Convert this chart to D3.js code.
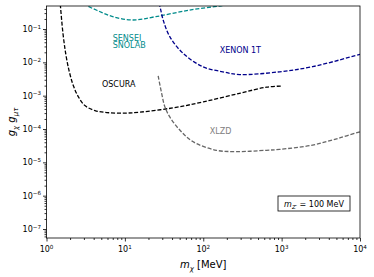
<!DOCTYPE html>
<html>
<head>
<meta charset="utf-8">
<script src="https://cdn.jsdelivr.net/npm/d3@7"></script>
<style>
  body { margin: 0; background: #fff; }
  svg { font-family: "DejaVu Sans", sans-serif; }
</style>
</head>
<body>
<svg id="chart" width="374" height="277"></svg>
<script>
'use strict';

// curves (m_chi in MeV, coupling product)
var oscuraX = [1.5, 1.62, 1.77, 1.96, 2.21, 2.56, 3.09, 4.15, 5.9, 10, 15.5, 41, 100, 300, 645, 1000],
    oscuraY = [0.55, 0.076, 0.0166, 5.1e-3, 1.94e-3, 9.1e-4, 5.05e-4, 3.57e-4, 3.11e-4, 3.0e-4, 3.2e-4, 4.3e-4, 6.5e-4, 1.2e-3, 1.8e-3, 1.95e-3];
var senseiX = [3.0, 3.35, 4.5, 7.0, 12.5, 24.8, 67, 162, 200],
    senseiY = [0.6, 0.49, 0.355, 0.235, 0.186, 0.235, 0.37, 0.49, 0.53];
var xenonX = [27, 27.9, 30.8, 37.4, 54.8, 98.6, 177, 292, 944, 2480, 10000],
    xenonY = [0.6, 0.49, 0.186, 0.059, 0.019, 7.4e-3, 5.2e-3, 4.3e-3, 5.2e-3, 7.4e-3, 0.0174];
var xlzdX = [26.6, 29.4, 32.3, 37.4, 50.2, 73.5, 147, 265, 638, 944, 2480, 5500, 10000],
    xlzdY = [3.9e-3, 1.2e-3, 4.7e-4, 2.3e-4, 9.3e-5, 4.2e-5, 2.3e-5, 2.1e-5, 2.3e-5, 2.45e-5, 3.3e-5, 5.4e-5, 8.3e-5];

var xTicks = [1, 10, 100, 1000, 10000],
    xTickExp = ['0', '1', '2', '3', '4'],
    yTicks = [1e-7, 1e-6, 1e-5, 1e-4, 1e-3, 1e-2, 1e-1],
    yTickExp = ['\u22127', '\u22126', '\u22125', '\u22124', '\u22123', '\u22122', '\u22121'];

var series = [
  { name: 'OSCURA', xs: oscuraX, ys: oscuraY, color: '#000000', label: ['OSCURA'], at: [5.1, 1.8e-3], text: '#000000' },
  { name: 'SENSEI', xs: senseiX, ys: senseiY, color: '#008b8b', label: ['SENSEI', 'SNOLAB'], at: [7.0, 0.044], text: '#008b8b' },
  { name: 'XENON', xs: xenonX, ys: xenonY, color: '#00008b', label: ['XENON 1T'], at: [162, 0.019], text: '#00008b' },
  { name: 'XLZD', xs: xlzdX, ys: xlzdY, color: '#666666', label: ['XLZD'], at: [121, 7.2e-5], text: '#808080' }
];

var margin = { top: 6, right: 14, bottom: 39, left: 46.5 },
    W = 374, H = 277,
    x = d3.scaleLog().domain([1, 1e4]).range([margin.left, W - margin.right]),
    y = d3.scaleLog().domain([Math.pow(10, -7.27), Math.pow(10, -0.31)]).range([H - margin.bottom, margin.top]),
    svg = d3.select('#chart');

svg.append('clipPath').attr('id', 'plotclip').append('rect')
  .attr('x', x.range()[0]).attr('y', y.range()[1])
  .attr('width', x.range()[1] - x.range()[0]).attr('height', y.range()[0] - y.range()[1]);

function minors(lo, hi) {
  var out = [], e, k;
  for (e = lo; e < hi; e++) {
    for (k = 2; k < 10; k++) out.push(k * Math.pow(10, e));
  }
  return out;
}

// minor ticks
svg.append('g').attr('transform', 'translate(0,' + y.range()[0] + ')')
  .call(d3.axisBottom(x).tickValues(minors(0, 4)).tickSize(2).tickFormat(''))
  .call(function (g) { g.select('.domain').remove(); });
svg.append('g').attr('transform', 'translate(' + x.range()[0] + ',0)')
  .call(d3.axisLeft(y).tickValues(minors(-8, 0).filter(function (v) { return v >= y.domain()[0] && v <= y.domain()[1]; })).tickSize(2).tickFormat(''))
  .call(function (g) { g.select('.domain').remove(); });

// major ticks
var xAxis = svg.append('g').attr('transform', 'translate(0,' + y.range()[0] + ')')
  .call(d3.axisBottom(x).tickValues(xTicks).tickSize(3.5).tickFormat(''));
xAxis.select('.domain').remove();
var yAxis = svg.append('g').attr('transform', 'translate(' + x.range()[0] + ',0)')
  .call(d3.axisLeft(y).tickValues(yTicks).tickSize(3.5).tickFormat(''));
yAxis.select('.domain').remove();
svg.selectAll('.tick line').attr('stroke', '#000').attr('stroke-width', 0.8);

// tick labels
xTicks.forEach(function (v, i) {
  var t = svg.append('text').attr('x', x(v)).attr('y', y.range()[0] + 14)
    .attr('text-anchor', 'middle').attr('font-size', 8);
  t.append('tspan').text('10');
  t.append('tspan').attr('dy', -3.5).attr('font-size', 5.6).text(xTickExp[i]);
});
yTicks.forEach(function (v, i) {
  var t = svg.append('text').attr('x', x.range()[0] - 5.5).attr('y', y(v) + 3)
    .attr('text-anchor', 'end').attr('font-size', 8);
  t.append('tspan').text('10');
  t.append('tspan').attr('dy', -3.5).attr('font-size', 5.6).text(yTickExp[i]);
});

// curves
var line = d3.line()
  .x(function (d) { return x(d[0]); })
  .y(function (d) { return y(d[1]); })
  .curve(d3.curveCatmullRom.alpha(0.5));

var plot = svg.append('g').attr('clip-path', 'url(#plotclip)');
series.forEach(function (s) {
  plot.append('path')
    .datum(s.xs.map(function (v, i) { return [v, s.ys[i]]; }))
    .attr('d', line)
    .attr('fill', 'none')
    .attr('stroke', s.color)
    .attr('stroke-width', 1.3)
    .attr('stroke-dasharray', '4,1.8');
});

// curve labels
series.forEach(function (s) {
  s.label.forEach(function (l, j) {
    svg.append('text')
      .attr('x', x(s.at[0])).attr('y', y(s.at[1]) + j * 7.5)
      .attr('font-size', 8).attr('fill', s.text)
      .text(l);
  });
});

// frame
svg.append('rect')
  .attr('x', x.range()[0]).attr('y', y.range()[1])
  .attr('width', x.range()[1] - x.range()[0]).attr('height', y.range()[0] - y.range()[1])
  .attr('fill', 'none').attr('stroke', '#000').attr('stroke-width', 0.8);

// mediator mass box
var box = svg.append('g').attr('transform', 'translate(278,196)');
box.append('rect').attr('width', 72).attr('height', 15)
  .attr('fill', '#fff').attr('stroke', '#000').attr('stroke-width', 0.8);
var bt = box.append('text').attr('x', 36).attr('y', 10.8).attr('text-anchor', 'middle').attr('font-size', 8);
bt.append('tspan').attr('font-style', 'italic').text('m');
bt.append('tspan').attr('font-style', 'italic').attr('font-size', 5.6).attr('dy', 2).text('Z\u2032');
bt.append('tspan').attr('dy', -2).text(' = 100 MeV');

// axis labels
var xl = svg.append('text').attr('x', (x.range()[0] + x.range()[1]) / 2).attr('y', 268)
  .attr('text-anchor', 'middle').attr('font-size', 10);
xl.append('tspan').attr('font-style', 'italic').text('m');
xl.append('tspan').attr('font-style', 'italic').attr('font-size', 7).attr('dy', 2.5).text('\u03c7');
xl.append('tspan').attr('dy', -2.5).text(' [MeV]');

var yl = svg.append('text')
  .attr('transform', 'translate(15,' + ((y.range()[0] + y.range()[1]) / 2) + ') rotate(-90)')
  .attr('text-anchor', 'middle').attr('font-size', 10).attr('font-style', 'italic');
yl.append('tspan').text('g');
yl.append('tspan').attr('font-size', 7).attr('dy', 2.5).text('\u03c7');
yl.append('tspan').attr('dy', -2.5).text(' g');
yl.append('tspan').attr('font-size', 7).attr('dy', 2.5).text('\u03bc\u03c4');
</script>
</body>
</html>
